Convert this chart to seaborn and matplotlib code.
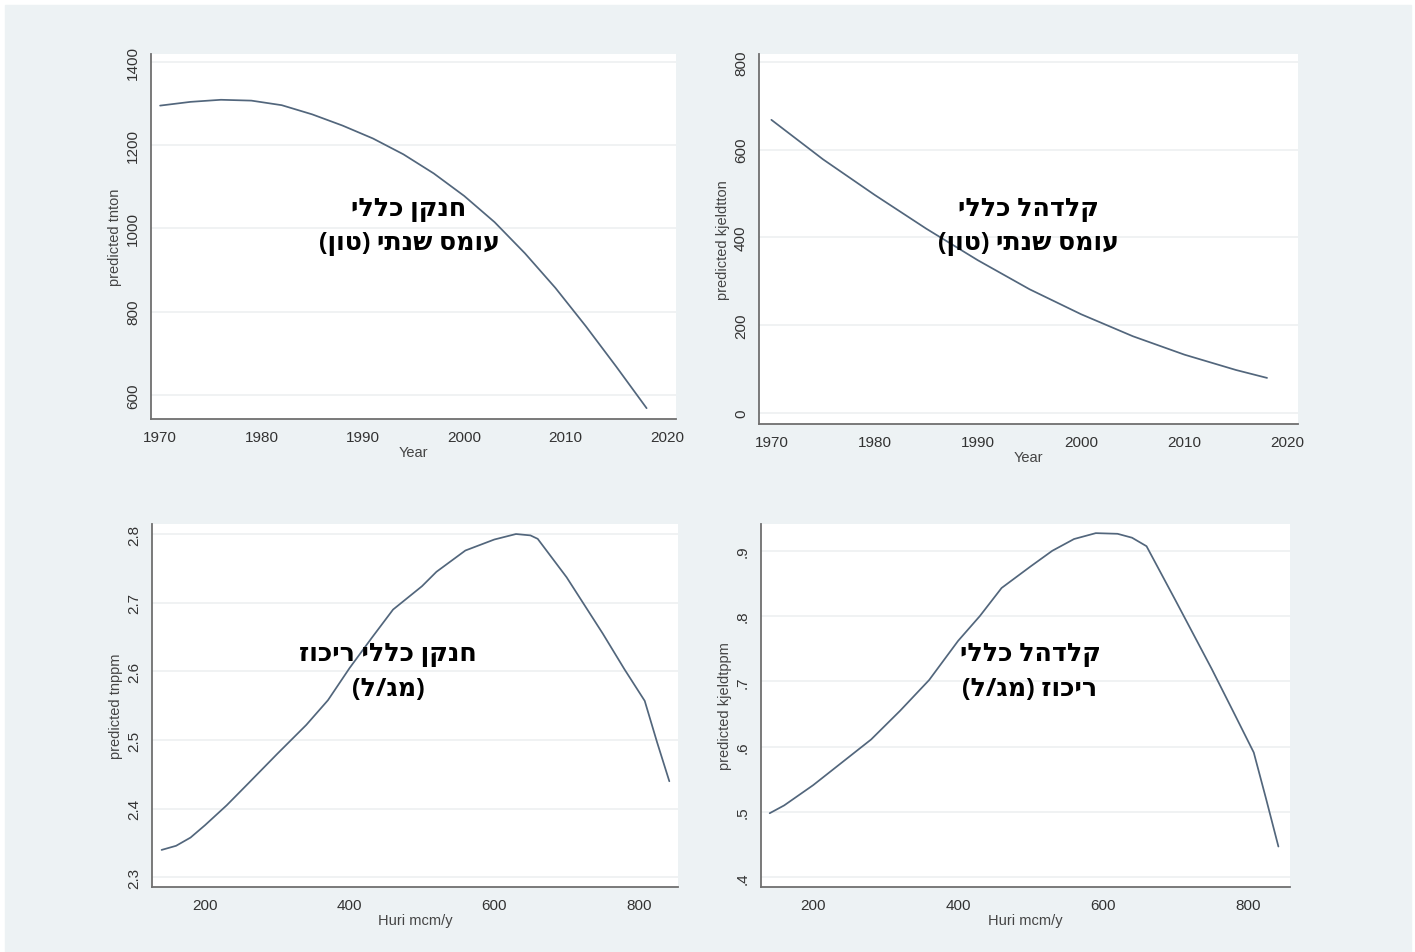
import matplotlib
matplotlib.use("Agg")
import matplotlib.pyplot as plt
from matplotlib.patches import Rectangle
import seaborn as sns

# panel 1: total nitrogen, annual load (ton) by year
years_tn = [1970, 1973, 1976, 1979, 1982, 1985, 1988, 1991, 1994, 1997,
            2000, 2003, 2006, 2009, 2012, 2015, 2018]
tnton = [1295, 1304, 1309, 1307, 1296, 1274, 1247, 1216, 1178, 1132,
         1078, 1015, 940, 857, 765, 668, 568]

# panel 2: kjeldahl nitrogen, annual load (ton) by year
years_kj = [1970, 1975, 1980, 1985, 1990, 1995, 2000, 2005, 2010, 2015, 2018]
kjeldtton = [668, 578, 497, 420, 348, 282, 225, 175, 133, 98, 80]

# panel 3: total nitrogen concentration vs Huri
huri_tn = [140, 160, 180, 200, 230, 260, 300, 340, 370, 400, 430, 460, 500,
           520, 560, 600, 630, 650, 660, 700, 750, 780, 808, 825, 842]
tnppm = [2.340, 2.346, 2.358, 2.376, 2.405, 2.437, 2.480, 2.522, 2.558, 2.605,
         2.648, 2.690, 2.724, 2.745, 2.776, 2.792, 2.800, 2.798, 2.793, 2.737,
         2.655, 2.603, 2.557, 2.497, 2.440]

# panel 4: kjeldahl concentration vs Huri
huri_kj = [140, 160, 200, 240, 280, 320, 360, 400, 430, 460, 500, 530, 560,
           590, 620, 640, 660, 700, 750, 780, 808, 825, 842]
kjeldtppm = [0.498, 0.510, 0.541, 0.576, 0.611, 0.655, 0.702, 0.762, 0.800,
             0.843, 0.876, 0.900, 0.918, 0.927, 0.926, 0.920, 0.907, 0.824,
             0.719, 0.653, 0.591, 0.520, 0.447]

year_ticks = [1970, 1980, 1990, 2000, 2010, 2020]
huri_ticks = [200, 400, 600, 800]
tn_yticks = [600, 800, 1000, 1200, 1400]
kj_yticks = [0, 200, 400, 600, 800]
tnppm_yticks = [2.3, 2.4, 2.5, 2.6, 2.7, 2.8]
tnppm_labels = ["2.3", "2.4", "2.5", "2.6", "2.7", "2.8"]
kjppm_yticks = [0.4, 0.5, 0.6, 0.7, 0.8, 0.9]
kjppm_labels = [".4", ".5", ".6", ".7", ".8", ".9"]

titles = [
    ["חנקן כללי", "עומס שנתי (טון)"],
    ["קלדהל כללי", "עומס שנתי (טון)"],
    ["חנקן כללי ריכוז", "(מג/ל)"],
    ["קלדהל כללי", "ריכוז (מג/ל)"],
]


def rtl(s):
    # matplotlib has no bidi support: lay the Hebrew out visually
    mirror = {"(": ")", ")": "("}
    return "".join(mirror.get(c, c) for c in reversed(s))


sns.set_style("white")
plt.rcParams["font.family"] = ["Liberation Sans", "DejaVu Sans"]

W, H = 1415, 953
fig = plt.figure(figsize=(W / 100, H / 100), dpi=100)
fig.patch.set_facecolor("white")
fig.add_artist(Rectangle((5 / W, 0), (1411 - 5) / W, (H - 6) / H,
                         transform=fig.transFigure, color="#edf2f4", zorder=-10))

line_col = "#52667c"
axis_col = "#6f6f6f"


def px_axes(l, t, r, b):
    return fig.add_axes([l / W, (H - b) / H, (r - l) / W, (b - t) / H])


panels = [
    (px_axes(151, 55, 676, 420), years_tn, tnton, (1969.1, 2020.9), (542, 1419),
     year_ticks, tn_yticks, None, "Year", "predicted tnton"),
    (px_axes(759, 55, 1298, 425), years_kj, kjeldtton, (1968.8, 2021.0), (-25, 818),
     year_ticks, kj_yticks, None, "Year", "predicted kjeldtton"),
    (px_axes(152, 525, 678, 888), huri_tn, tnppm, (126.7, 854), (2.286, 2.8146),
     huri_ticks, tnppm_yticks, tnppm_labels, "Huri mcm/y", "predicted tnppm"),
    (px_axes(761, 525, 1290, 888), huri_kj, kjeldtppm, (128, 858), (0.385, 0.941),
     huri_ticks, kjppm_yticks, kjppm_labels, "Huri mcm/y", "predicted kjeldtppm"),
]

for ax, xs, ys, xlim, ylim, xt, yt, ylabs, xlab, ylab in panels:
    ax.set_facecolor("white")
    sns.lineplot(x=xs, y=ys, ax=ax, color=line_col, linewidth=1.25)
    ax.set_xlim(*xlim)
    ax.set_ylim(*ylim)
    ax.set_xticks(xt)
    ax.set_yticks(yt)
    if ylabs is not None:
        ax.set_yticklabels(ylabs)
    ax.yaxis.grid(True, color="#edf0f1", linewidth=1.2)
    ax.xaxis.grid(False)
    for side in ["top", "right"]:
        ax.spines[side].set_visible(False)
    for side in ["left", "bottom"]:
        ax.spines[side].set_color(axis_col)
        ax.spines[side].set_linewidth(1.3)
    ax.tick_params(axis="both", direction="out", length=5, width=1,
                   color=axis_col, labelsize=11, labelcolor="#333333", pad=3)
    ax.tick_params(axis="y", labelrotation=90)
    for lab in ax.get_yticklabels():
        lab.set_va("center")
    ax.set_xlabel(xlab, fontsize=10.5, color="#444444", labelpad=0.5)
    ax.set_ylabel(ylab, fontsize=10.5, color="#444444", labelpad=3)

# overlaid Hebrew captions
centers = [(409, 210, 244), (1028, 209, 244), (388, 655, 690), (1030, 655, 690)]
for (cx, y1, y2), (l1, l2) in zip(centers, titles):
    for yy, txt in [(y1, l1), (y2, l2)]:
        fig.text(cx / W, (H - yy) / H, rtl(txt), ha="center", va="center",
                 fontsize=18.3, fontweight="bold", color="black",
                 family=["Open Sans", "DejaVu Sans"])

fig.savefig("out.png", dpi=100)
